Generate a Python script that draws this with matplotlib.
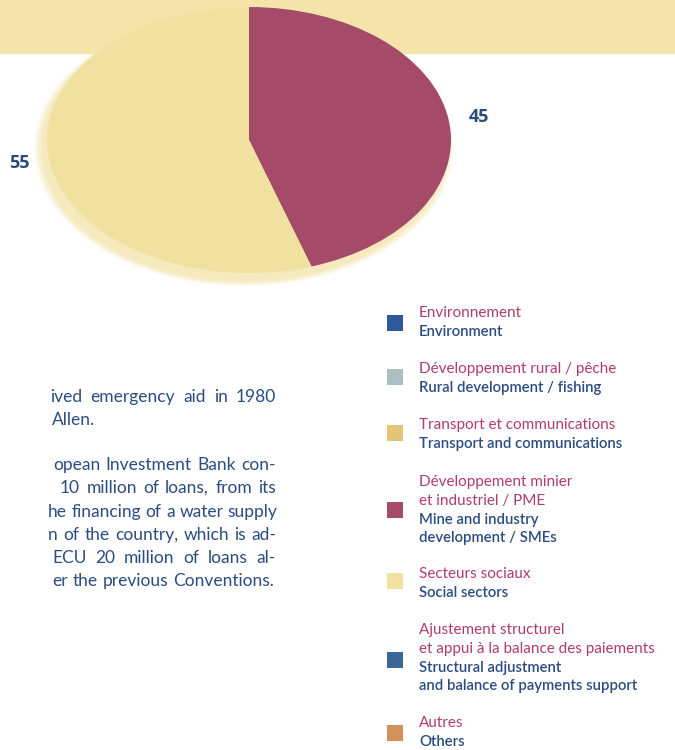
import matplotlib.pyplot as plt

# 数据
shares = [45, 55]
share_colors = ['#a54a68', '#f1e1a0']

body_lines = [
    'ived emergency aid in 1980',
    'Allen.',
    'opean Investment Bank con-',
    '10 million of loans, from its',
    'he financing of a water supply',
    'n of the country, which is ad-',
    'ECU 20 million of loans al-',
    'er the previous Conventions.',
]

legend_fr = [
    'Environnement',
    'Développement rural / pêche',
    'Transport et communications',
    'Développement minier\net industriel / PME',
    'Secteurs sociaux',
    'Ajustement structurel\net appui à la balance des paiements',
    'Autres',
]
legend_en = [
    'Environment',
    'Rural development / fishing',
    'Transport and communications',
    'Mine and industry\ndevelopment / SMEs',
    'Social sectors',
    'Structural adjustment\nand balance of payments support',
    'Others',
]
legend_colors = ['#2e5a99', '#a9bfc0', '#e3c578', '#a84a6a',
                 '#f2e2a0', '#3a669a', '#d3915c']

navy = '#2a4c82'
rose = '#b03c6a'
W, H = 675, 750

fig = plt.figure(figsize=(W / 100, H / 100), dpi=100)
ax = fig.add_axes([0, 0, 1, 1])
ax.set_xlim(0, W)
ax.set_ylim(H, 0)
ax.axis('off')
renderer = fig.canvas.get_renderer()

# 顶部黄色色带
ax.axhspan(0, 53, color='#f4e4aa', zorder=0)

# 正文（两端对齐，左侧被裁切）
line_y = [397, 420, 465, 488, 512, 535, 558, 581]
line_x0 = [50, 52, 53, 60, 48, 48, 52, 52]
justified = [True, False, True, True, True, True, True, False]
body_style = dict(va='center', fontsize=12.5, color=navy, family='Lato')


def word_width(w):
    t = ax.text(0, 0, w, **body_style)
    bb = t.get_window_extent(renderer)
    t.remove()
    return bb.width


space = word_width('a b') - word_width('a') - word_width('b')
for txt, x0, y, just in zip(body_lines, line_x0, line_y, justified):
    words = txt.split(' ')
    widths = [word_width(w) for w in words]
    gap = space * 1.1
    if just:
        gap = max((276 - x0 - sum(widths)) / (len(words) - 1), space)
    x = x0
    for w, wd in zip(words, widths):
        ax.text(x, y, w, ha='left', **body_style)
        x += wd + gap

# 图例
sq_y = [323, 377, 433, 510, 581, 660, 733]
fr_y = [313, 369, 425, 482, 574, 630, 723]
step = 18.8
ax.scatter([395] * len(sq_y), sq_y, marker='s', s=135, c=legend_colors,
           linewidths=0, zorder=3)
for fr, en, y in zip(legend_fr, legend_en, fr_y):
    fr_parts = fr.split('\n')
    en_parts = en.split('\n')
    for i, s in enumerate(fr_parts):
        ax.text(419, y + step * i, s, ha='left', va='center', fontsize=11,
                color=rose, family='Lato')
    for i, s in enumerate(en_parts):
        ax.text(419, y + step * (len(fr_parts) + i), s, ha='left',
                va='center', fontsize=10.7, color=navy, family='Lato',
                fontweight='semibold')

# 椭圆饼图
cx, cy, rx, ry, pad = 249, 140, 202, 133, 1.15
pax = fig.add_axes([(cx - pad * rx) / W, (H - cy - pad * ry) / H,
                    2 * pad * rx / W, 2 * pad * ry / H])
# 黄色扇区左下边缘的网点晕
for k, a in [(1.035, 0.3), (1.02, 0.45), (1.005, 0.6)]:
    pax.pie([sum(shares)], radius=k, center=(-0.025, -0.06),
            colors=['#f4e6b2'], wedgeprops=dict(alpha=a, linewidth=0))
wedges, texts = pax.pie(shares, colors=share_colors, startangle=90,
                        counterclock=False, labels=[str(v) for v in shares],
                        labeldistance=1.1,
                        wedgeprops=dict(linewidth=0),
                        textprops=dict(fontsize=13, fontweight='bold',
                                       color='#2a4a7a', family='Open Sans'))
pax.set_aspect('auto')
pax.set_xlim(-pad, pad)
pax.set_ylim(-pad, pad)
pax.axis('off')

plt.savefig('out.png', dpi=100)
plt.close()
